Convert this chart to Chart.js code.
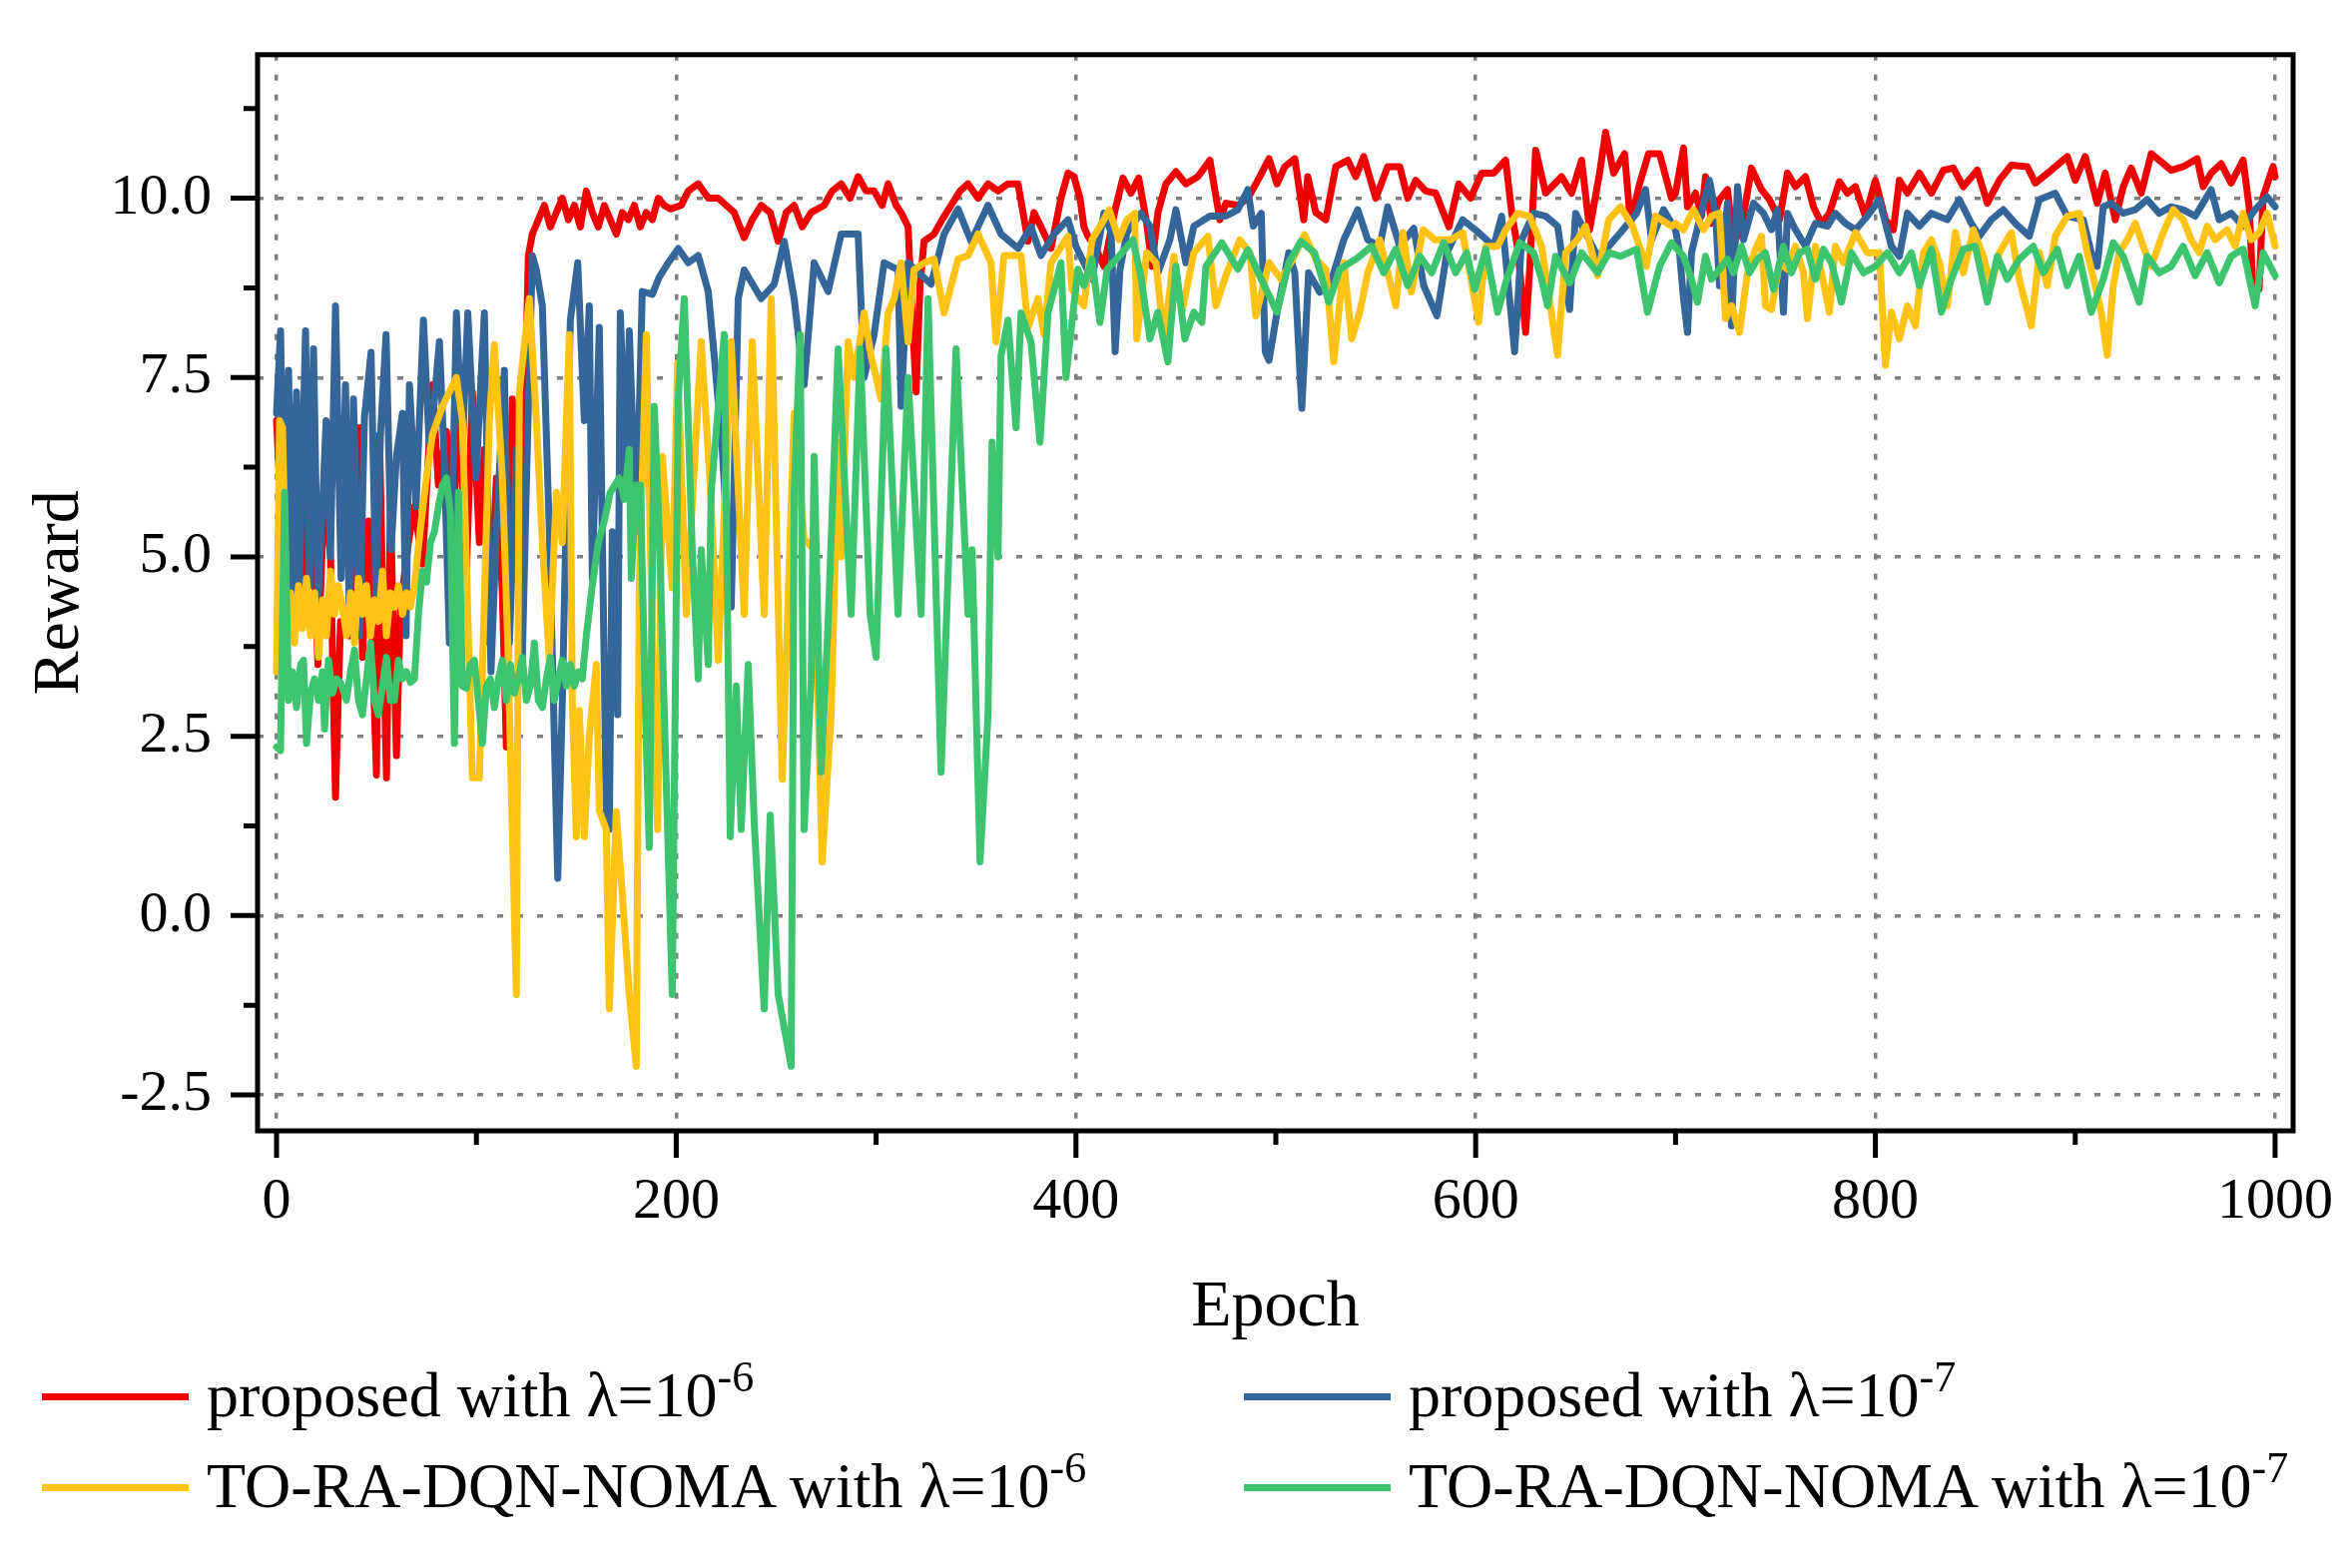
<!DOCTYPE html>
<html>
<head>
<meta charset="utf-8">
<title>Reward vs Epoch</title>
<script src="https://cdn.jsdelivr.net/npm/chart.js@4.4.1/dist/chart.umd.min.js"></script>
<style>
  body { margin: 0; background: #fff; overflow: hidden; }
  #wrap { position: relative; width: 2353px; height: 1571px; }
  #chart { position: absolute; left: 0; top: 0; }
  .item { position: absolute; font-family: "Liberation Serif", "Times New Roman", serif; font-size: 64px; line-height: 64px; color: #000; white-space: nowrap; }
  .swatch { position: absolute; height: 7px; width: 147px; }
  .sup { font-size: 44px; line-height: 0; vertical-align: 25px; }
</style>
</head>
<body>
<div id="wrap">
  <canvas id="chart" width="2353" height="1571"></canvas>
  <div id="legend"></div>
</div>
<script>
// tick values
const xTicks = [0, 200, 400, 600, 800, 1000];
const xMinor = [100, 300, 500, 700, 900];
const yTicks = [-2.5, 0, 2.5, 5, 7.5, 10];
const yMinor = [-1.25, 1.25, 3.75, 6.25, 8.75, 11.25];

// [epoch, reward]
const redPoints = [[0,6.9],[4,4.6],[9,7.1],[13,4.2],[17,6.4],[20.7,3.5],[24,6.0],[27,5.0],[29.5,1.65],[32,4.1],[36.5,3.9],[39,6.2],[41.5,6.8],[43,3.6],[46,5.5],[50,1.96],[51.5,6.7],[55,1.92],[57,5.7],[60,2.23],[62,4.3],[66,5.2],[69,5.7],[73,4.9],[78,7.4],[81,6.0],[85,6.75],[88,5.5],[91.5,6.9],[95,4.8],[98,7.3],[101.5,5.2],[104,6.5],[106.5,3.8],[110,6.1],[113,4.5],[115,2.35],[118,7.2],[121.5,5.35],[124,6.8],[126,9.2],[128,9.5],[131,9.7],[134,9.9],[137,9.6],[140,9.8],[143,10.0],[146,9.7],[149,9.9],[152,9.6],[155,10.1],[158,9.8],[161,9.6],[164,9.9],[167,9.7],[170,9.5],[173,9.8],[176,9.7],[179,9.9],[182,9.6],[185,9.8],[188,9.7],[191,10.0],[194,9.9],[197,9.85],[202.5,9.9],[206,10.1],[211,10.2],[216,10.0],[221,10.0],[225,9.9],[229,9.8],[234,9.45],[238,9.7],[242.5,9.9],[247,9.8],[251,9.4],[255,9.8],[259,9.9],[263,9.6],[267.5,9.8],[274,9.9],[278,10.1],[282.5,10.2],[287,10.0],[291,10.3],[295,10.1],[299,10.1],[303,9.9],[306,10.2],[310,9.9],[312.5,9.8],[316,9.6],[318,8.4],[320,7.3],[322,8.8],[324,9.4],[329,9.5],[333,9.7],[337.5,9.9],[342,10.1],[346,10.2],[351,10.0],[356,10.2],[361,10.1],[366,10.2],[371,10.2],[376,9.4],[379,9.8],[382.5,9.6],[387.5,9.3],[392.5,10.0],[396,10.35],[399,10.3],[402,10.0],[404,9.6],[406,9.47],[410,9.3],[414,9.05],[419.6,9.84],[423.5,10.28],[427.5,10.07],[431.4,10.28],[435.4,9.65],[438,9.05],[441,9.8],[445,10.2],[450,10.37],[455,10.2],[461,10.3],[467,10.53],[472,9.7],[475,9.93],[481,9.9],[486,10.0],[491,10.25],[496.6,10.55],[500.6,10.2],[504.5,10.44],[509.5,10.55],[514,9.7],[516,10.3],[520,9.8],[525,9.7],[530,10.44],[536,10.53],[540,10.3],[544,10.58],[550,10.0],[556,10.44],[562,10.44],[566,10.0],[570,10.25],[575,10.1],[580,10.07],[586.6,9.6],[591.5,10.2],[597.4,10.0],[603,10.35],[609,10.35],[615,10.53],[618,9.8],[621,9.3],[625,8.13],[627,9.0],[630,10.67],[635,10.07],[643,10.3],[648,10.07],[653,10.53],[657,9.56],[662,10.35],[665,10.92],[669,10.35],[674.5,10.62],[677.5,9.65],[682,10.2],[686.5,10.62],[692,10.62],[698,10.0],[700,10.07],[704,10.7],[706,9.88],[710,10.07],[713,9.75],[715,10.3],[718,9.65],[722,9.98],[726,10.12],[729,9.33],[734,9.75],[738,10.42],[743,10.12],[747,9.98],[752,9.7],[756,10.35],[760,10.16],[765,10.3],[769,9.88],[773,9.65],[777,9.79],[782,10.23],[786,10.07],[790,10.16],[795,9.75],[800,10.25],[805,9.70],[809,9.56],[812,10.25],[816,10.07],[822,10.35],[828,10.07],[834,10.39],[839,10.42],[844,10.16],[851,10.39],[856,9.93],[862,10.25],[868,10.46],[876,10.44],[880,10.21],[888,10.39],[896,10.58],[900,10.25],[905,10.58],[911,9.93],[915,10.35],[920,9.70],[924,10.16],[928,10.42],[933,10.07],[938,10.62],[942,10.53],[948,10.39],[954,10.44],[961,10.55],[964,10.16],[968,10.35],[973,10.48],[978,10.21],[984,10.53],[987,9.88],[989,8.69],[992,8.73],[994,10.02],[999,10.44],[1000,10.3]];

const bluePoints = [[0,7.0],[2,8.15],[4,5.0],[6,7.6],[8,4.5],[10,7.3],[11.5,4.65],[14.5,8.15],[16.5,4.6],[18.5,7.9],[20.7,4.4],[23,5.7],[24.8,6.9],[27,5.0],[29.5,8.5],[32.3,4.7],[34.5,7.4],[36.5,3.95],[38.5,7.2],[41.5,3.9],[44,6.95],[47.3,7.85],[49.8,4.4],[52,6.7],[54.8,8.1],[57.3,5.1],[60,6.4],[63,7.0],[64.8,3.9],[66.5,7.4],[69.8,5.7],[73.5,8.3],[76.5,6.5],[79,7.2],[81.5,8.0],[84,6.3],[86.5,3.8],[90,8.4],[93,6.5],[95.7,8.4],[99.8,6.1],[104,8.4],[107.3,3.4],[110,5.35],[114,7.6],[116.5,3.8],[120,6.5],[123,3.6],[125,6.0],[128,9.2],[130,9.0],[133,8.5],[136.5,5.35],[140.7,0.52],[143,3.0],[147,8.3],[150.7,9.1],[154,6.9],[156.5,8.5],[158,4.7],[161.5,8.2],[165,1.46],[166.5,1.2],[168,5.35],[170.7,2.8],[172,8.4],[175,6.1],[176.5,8.15],[180,5.35],[183,8.7],[188,8.66],[191.5,8.9],[196,9.1],[201,9.3],[206,9.1],[211,9.2],[216,8.7],[219,7.8],[223,6.5],[227.5,4.3],[231,8.6],[234,9.0],[242.5,8.6],[249,8.8],[254,9.4],[259,8.6],[264,7.4],[269,9.1],[276,8.7],[282.5,9.5],[291,9.5],[294,7.5],[299,8.1],[304,9.1],[311,9.0],[312.5,7.1],[316,9.1],[327.5,8.8],[334,9.5],[341,9.85],[347.5,9.4],[356,9.9],[362.5,9.5],[371,9.3],[377.5,9.6],[382.5,9.2],[389,9.5],[396,9.7],[400,9.33],[404,9.1],[408,8.87],[414,9.79],[417.6,9.52],[419.6,7.86],[422,9.0],[425.5,9.52],[432.4,9.79],[437,9.61],[441,8.96],[447,9.42],[450,9.84],[455,9.10],[459,9.61],[467,9.75],[475,9.75],[481,9.84],[486,10.12],[488.7,9.61],[492.7,9.79],[494.7,7.86],[496.6,7.74],[500.6,8.41],[506.5,9.24],[509.5,8.96],[513,7.07],[516.4,8.96],[522,8.69],[528,8.87],[534,9.42],[541,9.84],[546,9.42],[552,9.33],[556,9.88],[562,9.33],[569,9.58],[574,8.78],[580.6,8.36],[585.6,9.24],[593.5,9.70],[601.5,9.52],[609,9.33],[613,9.75],[619.5,7.86],[623,9.42],[629,9.79],[635,9.75],[641,9.61],[647,8.45],[650,9.79],[655,9.52],[661,9.19],[666.6,9.33],[672.5,9.52],[680.5,9.79],[685,10.12],[688,9.42],[694,9.84],[700,9.56],[702,9.24],[704,8.6],[706,8.13],[708,9.24],[712,9.70],[717,10.25],[720,9.79],[722,8.78],[726,9.93],[728,8.22],[731,10.16],[734,9.42],[739,9.93],[744,9.79],[748,9.56],[751,9.84],[754,8.41],[756,9.79],[760,9.56],[765,9.33],[770,9.65],[776,9.61],[780,9.79],[785,9.65],[790,9.56],[796,9.75],[802,9.98],[808,9.33],[812,9.19],[816,9.79],[822,9.61],[828,9.79],[836,9.70],[842,9.98],[848,9.65],[852,9.47],[858,9.70],[864,9.84],[870,9.65],[877,9.47],[882,9.98],[890,10.07],[896,9.75],[904,9.70],[908,9.24],[911,9.05],[914,9.88],[918,9.93],[924,9.79],[930,9.84],[936,9.98],[942,9.79],[948,9.88],[954,9.84],[960,9.75],[968,10.12],[972,9.70],[978,9.79],[984,9.61],[990,9.84],[996,10.02],[1000,9.88]];

const yellowPoints = [[0,3.4],[1.5,6.9],[3,6.8],[5,4.2],[7,4.5],[9,3.8],[11,4.6],[13,4.0],[15,4.7],[17,3.9],[19,4.5],[21,3.6],[23,4.4],[25,3.9],[27,4.8],[29,4.2],[31,4.6],[33,4.3],[35,3.9],[37,4.5],[39,3.8],[41,4.7],[43,4.2],[45,4.6],[47,3.9],[49,4.4],[51,4.1],[53,4.8],[55,3.9],[57,4.5],[59,4.3],[61,4.6],[63,4.2],[65,4.5],[67,4.3],[69,4.6],[72,5.4],[75,6.1],[78,6.7],[83,7.1],[90,7.5],[93,6.9],[98,1.92],[101.5,1.92],[106.5,6.9],[109,7.96],[113,6.1],[115.7,3.8],[120,-1.1],[121.5,7.3],[126.5,8.6],[130,6.9],[133,5.2],[136.5,3.56],[140,5.9],[143,5.2],[146.5,8.1],[148,3.0],[150,1.1],[151.5,2.86],[154,1.1],[156.5,2.5],[160,3.5],[161.5,1.46],[165,1.2],[166.5,-1.3],[170,1.45],[173,0.3],[176.5,-1.1],[180,-2.1],[181.5,4.57],[185,8.1],[188,3.8],[190.7,1.2],[193,6.4],[198,4.57],[200.7,7.7],[205,4.2],[212.5,8.0],[217,6.0],[221,3.56],[227.5,8.0],[234,4.2],[238,8.0],[244,4.2],[247.5,8.6],[253,1.9],[259,7.0],[264,5.25],[269,5.1],[273,0.75],[277.5,2.8],[281,6.6],[282.5,5.0],[286,8.0],[289,7.5],[294,8.4],[297.5,7.8],[302.5,7.2],[306,8.4],[309,8.6],[312.5,9.1],[316,8.0],[319,9.0],[324,9.1],[329,9.15],[334,8.4],[341,9.15],[346,9.2],[351,9.5],[357.5,9.1],[360,8.0],[364,9.2],[372.5,9.2],[376,8.2],[381,8.6],[384,8.1],[387.5,9.1],[396,9.47],[398,8.73],[404,8.5],[408,9.42],[414,9.70],[416.6,9.84],[421.5,9.42],[425.5,9.70],[429.4,9.79],[430.4,8.04],[435.4,9.24],[440,9.10],[444,8.04],[449,9.19],[453,8.41],[459,9.24],[466,9.47],[470,8.50],[475,8.92],[482,9.42],[487,9.24],[490,8.36],[496.6,9.10],[502.6,8.87],[508.5,9.15],[514.4,9.49],[520,9.15],[525,9.01],[529,7.72],[534,9.10],[538,8.04],[542,8.41],[546,8.96],[552,9.42],[560,8.50],[563.6,9.52],[567.8,8.69],[573.7,9.56],[579.6,9.42],[587.5,9.42],[593.5,9.52],[601.5,8.27],[605,9.33],[611,9.33],[615,9.56],[621,9.79],[627,9.75],[633,9.33],[641,7.81],[645,9.24],[650.8,9.42],[655,9.61],[661,8.92],[666.6,9.70],[672.5,9.88],[678.5,9.61],[685.4,9.05],[690,9.75],[698,9.61],[700,9.65],[704,9.56],[709,9.84],[714,9.56],[718,9.75],[722,9.79],[725,8.32],[728,8.50],[732,8.13],[736,8.96],[740,9.29],[743,9.47],[745,8.50],[748,8.45],[752,9.10],[756,9.01],[760,9.33],[764,8.96],[766,8.32],[770,9.33],[773,8.96],[777,8.41],[780,9.33],[784,9.10],[790,9.52],[796,9.24],[802,9.24],[805,7.67],[808,8.41],[812,8.04],[816,8.50],[820,8.22],[824,9.24],[828,9.42],[832,9.10],[836,8.50],[840,9.52],[844,8.96],[849,9.56],[854,9.19],[858,8.78],[862,9.24],[868,9.52],[872,8.87],[878,8.22],[882,9.24],[886,8.78],[890,9.47],[896,9.75],[902,9.79],[906,9.24],[910,8.78],[913,8.41],[916,7.81],[919,8.78],[922,9.24],[926,9.42],[930,9.65],[934,9.33],[938,9.05],[944,9.52],[949,9.84],[954,9.70],[958,9.42],[962,9.24],[966,9.61],[970,9.42],[976,9.56],[980,9.33],[984,9.79],[988,9.42],[992,9.52],[996,9.79],[1000,9.33]];

const greenPoints = [[0,2.35],[2,2.3],[4,5.9],[6,3.0],[8,3.4],[10,2.9],[12,3.5],[13.5,3.56],[15,2.4],[17,3.1],[19,3.3],[21,3.0],[23,3.4],[24,2.6],[26,3.56],[28,3.1],[30,3.3],[32,3.25],[35,3.0],[37,3.4],[39,3.7],[41,3.0],[43,2.8],[45,3.3],[47,3.8],[49,3.0],[51,2.8],[53,3.2],[55,3.6],[57,3.0],[59,3.0],[61,3.56],[63,3.3],[65,3.4],[67,3.25],[69,3.3],[71,4.2],[73,4.8],[75,4.65],[77,5.2],[79,5.35],[81,5.7],[83,6.0],[85,6.1],[87,5.6],[89,2.4],[91,5.9],[93,3.2],[95,3.17],[97,3.5],[99,3.56],[101,3.0],[103,2.4],[105,3.2],[107,3.3],[109,2.9],[111,3.3],[113,3.56],[115,3.0],[117,3.5],[119,3.1],[121,3.3],[123,3.6],[125,3.0],[127,3.2],[129,3.8],[131,3.0],[133,2.9],[135,3.3],[137,3.6],[139,3.0],[141,3.3],[143,3.56],[145,3.2],[147,3.5],[149,3.2],[151,3.4],[153,3.3],[155,3.9],[158,4.6],[161,5.2],[164,5.5],[167,5.9],[171.5,6.1],[174,5.8],[176.5,6.5],[177.5,4.7],[180,6.0],[182,6.0],[185,2.4],[186.5,0.95],[189,7.1],[191.5,5.35],[195,1.85],[198,-1.1],[201,7.2],[204,8.6],[208,5.1],[211,3.3],[212.5,5.1],[216,3.5],[217.5,5.9],[224,8.1],[227,1.1],[230,3.2],[232.5,1.2],[236,3.5],[239,1.3],[244,-1.3],[247,1.4],[251,-1.1],[257.5,-2.1],[259,5.9],[262,8.1],[264,1.2],[267.5,3.3],[269,6.4],[272.5,2.0],[276,4.1],[281,7.9],[287.5,4.2],[292,7.9],[297,4.2],[300,3.6],[305,7.9],[311,4.2],[316,7.5],[322.5,4.2],[326,8.6],[332.5,2.0],[340,7.9],[346,4.2],[348,5.1],[352,0.75],[356,2.8],[358,6.6],[361,5.0],[362.5,7.8],[366,8.3],[370,6.8],[372.5,8.4],[377.5,8.0],[382,6.6],[386,8.4],[392.5,9.1],[395,7.5],[398,8.27],[401,9.01],[404,8.78],[408,9.15],[412,8.27],[415.6,9.01],[421.5,9.19],[428.5,9.42],[432.4,8.92],[437,8.04],[441,8.41],[446,7.72],[450,9.05],[454.5,8.04],[459,8.41],[463,8.27],[465,9.05],[473,9.38],[481,9.01],[486,9.28],[492.7,8.87],[500.6,8.41],[506.5,9.10],[512.5,9.40],[519.4,9.24],[526.5,8.55],[532,9.01],[540,9.15],[548,9.33],[554,8.96],[560,9.29],[566,8.78],[572,9.19],[578,8.96],[584,9.38],[590,8.96],[595.5,9.24],[599.5,8.73],[605,9.29],[611,8.41],[615,8.82],[622,9.38],[629,9.24],[633,8.87],[636,8.50],[640,9.19],[647,8.82],[653,9.24],[661,8.96],[666.6,9.24],[672.5,9.19],[680.5,9.29],[686,8.41],[692,9.05],[698,9.38],[704,9.19],[708,8.87],[711,8.55],[715,9.19],[718,8.87],[722,9.01],[726,9.15],[729,8.96],[733,9.33],[737,8.96],[741,9.15],[745,9.24],[749,8.73],[754,9.33],[758,8.96],[762,9.24],[766,9.29],[770,8.87],[774,9.29],[778,9.10],[783,8.55],[788,9.24],[794,8.96],[800,9.05],[806,9.24],[812,8.96],[818,9.24],[822,8.78],[828,9.29],[833,8.41],[838,8.87],[844,9.29],[850,9.33],[856,8.55],[861,9.19],[866,8.87],[872,9.15],[879,9.33],[884,8.96],[891,9.29],[896,8.78],[902,9.19],[908,8.41],[914,8.87],[919,9.38],[924,9.19],[932,8.55],[936,9.19],[942,8.96],[948,9.05],[954,9.33],[960,8.92],[966,9.24],[972,8.82],[978,9.19],[984,9.29],[990,8.50],[994,9.24],[1000,8.92]];

const seriesNames = ['proposed with λ=10', 'proposed with λ=10', 'TO-RA-DQN-NOMA with λ=10', 'TO-RA-DQN-NOMA with λ=10'];
const seriesExp = ['-6', '-7', '-6', '-7'];
const seriesColors = ['#f00000', '#34669a', '#fec315', '#3cc46e'];
const seriesData = [redPoints, bluePoints, yellowPoints, greenPoints];

const serif = 'Liberation Serif';
Chart.defaults.font.family = serif;
Chart.defaults.color = '#000';
Chart.defaults.elements.line.borderWidth = 7;

// legend below the plot (html, for the superscripts)
const legendPos = [[42, 1366], [1246, 1366], [42, 1457], [1246, 1457]];
var legend = document.getElementById('legend');
seriesNames.forEach((name, i) => {
  var sw = document.createElement('div');
  sw.className = 'swatch';
  sw.style.background = seriesColors[i];
  sw.style.left = legendPos[i][0] + 'px';
  sw.style.top = (legendPos[i][1] + 30) + 'px';
  legend.appendChild(sw);
  var t = document.createElement('div');
  t.className = 'item';
  t.style.left = (legendPos[i][0] + 165) + 'px';
  t.style.top = legendPos[i][1] + 'px';
  t.innerHTML = name + '<span class="sup">' + seriesExp[i] + '</span>';
  legend.appendChild(t);
});

// box around the plot + outward ticks (major and minor)
const framePlugin = {
  id: 'frame',
  afterDatasetsDraw(chart) {
    const {ctx, chartArea: a, scales: {x, y}} = chart;
    ctx.save();
    ctx.strokeStyle = '#000';
    ctx.lineWidth = 5;
    ctx.strokeRect(a.left, a.top, a.right - a.left, a.bottom - a.top);
    ctx.beginPath();
    xTicks.forEach(v => { const p = x.getPixelForValue(v); ctx.moveTo(p, a.bottom); ctx.lineTo(p, a.bottom + 27); });
    xMinor.forEach(v => { const p = x.getPixelForValue(v); ctx.moveTo(p, a.bottom); ctx.lineTo(p, a.bottom + 14); });
    yTicks.forEach(v => { const p = y.getPixelForValue(v); ctx.moveTo(a.left, p); ctx.lineTo(a.left - 27, p); });
    yMinor.forEach(v => { const p = y.getPixelForValue(v); ctx.moveTo(a.left, p); ctx.lineTo(a.left - 14, p); });
    ctx.stroke();
    ctx.restore();
  }
};

const gridOpts = { color: '#808080', lineWidth: 3.5, drawTicks: true, tickLength: 26, tickColor: 'rgba(0,0,0,0)' };

var chart = new Chart(document.getElementById('chart'), {
  type: 'line',
  data: {
    datasets: seriesData.map((pts, i) => ({
      label: seriesNames[i] + seriesExp[i],
      data: pts.map(p => ({x: p[0], y: p[1]})),
      borderColor: seriesColors[i],
      backgroundColor: seriesColors[i],
      borderWidth: 7,
      borderJoinStyle: 'round',
      borderCapStyle: 'round',
      pointRadius: 0,
      tension: 0,
      order: 4 - i   // green on top, red at the bottom
    }))
  },
  options: {
    responsive: false,
    animation: false,
    elements: { line: { borderWidth: 7 } },
    layout: { padding: { left: 0, top: 51, right: 56, bottom: 221 } },
    plugins: { legend: { display: false }, tooltip: { enabled: false } },
    scales: {
      x: {
        type: 'linear',
        min: -9.5,
        max: 1009,
        afterBuildTicks: s => { s.ticks = xTicks.map(v => ({value: v})); },
        afterFit: s => { s.height = 217; },
        grid: gridOpts,
        border: { display: false, dash: [6, 14] },
        ticks: { padding: 11, maxRotation: 0, autoSkip: false, font: { family: serif, size: 58 }, callback: v => String(v) },
        title: { display: true, text: 'Epoch', font: { family: serif, size: 66 }, padding: { top: 0, bottom: 0 } }
      },
      y: {
        type: 'linear',
        min: -3,
        max: 12,
        afterBuildTicks: s => { s.ticks = yTicks.map(v => ({value: v})); },
        afterFit: s => { s.width = 258; },
        grid: gridOpts,
        border: { display: false, dash: [6, 14] },
        ticks: { padding: 20, font: { family: serif, size: 58 }, callback: v => v.toFixed(1) },
        title: { display: true, text: 'Reward', font: { family: serif, size: 66 }, padding: { top: 21, bottom: 0 } }
      }
    }
  },
  plugins: [framePlugin]
});
</script>
</body>
</html>
